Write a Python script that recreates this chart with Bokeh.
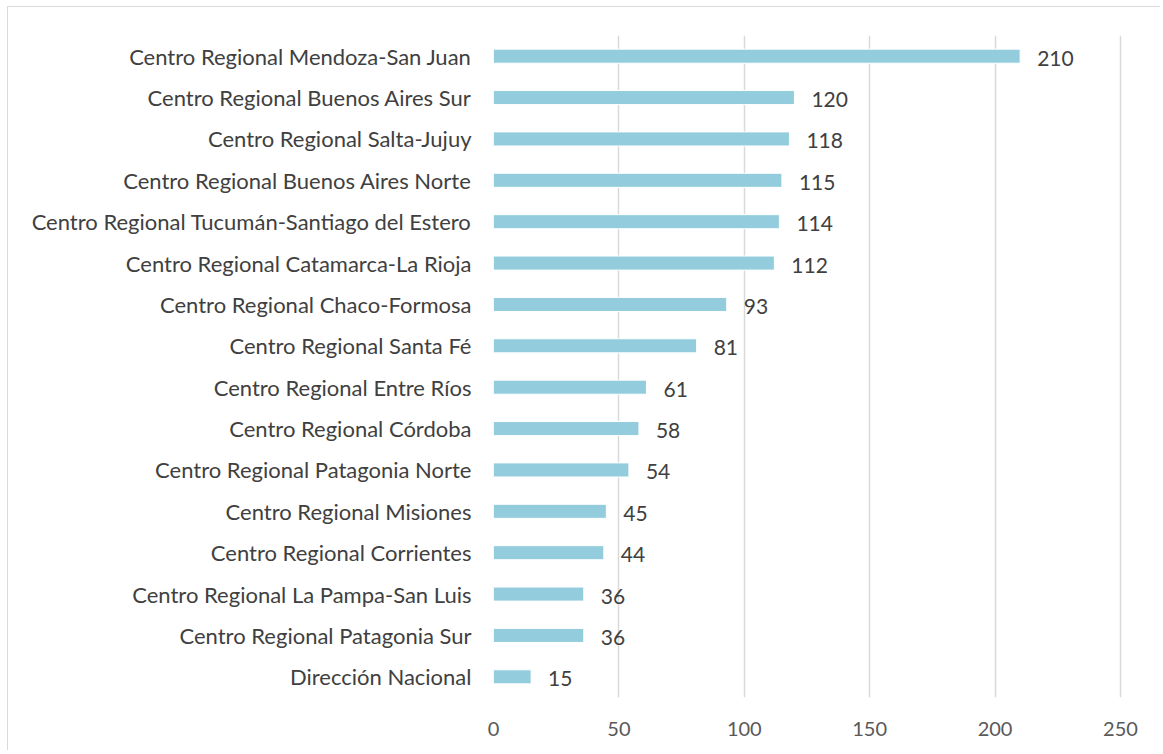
from bokeh.plotting import figure
from bokeh.models import ColumnDataSource, FactorRange, FixedTicker, LabelSet
from bokeh.core.properties import value
from bokeh.embed import file_html
from bokeh.resources import INLINE

categories = [
    "Centro Regional Mendoza-San Juan",
    "Centro Regional Buenos Aires Sur",
    "Centro Regional Salta-Jujuy",
    "Centro Regional Buenos Aires Norte",
    "Centro Regional Tucumán-Santiago del Estero",
    "Centro Regional Catamarca-La Rioja",
    "Centro Regional Chaco-Formosa",
    "Centro Regional Santa Fé",
    "Centro Regional Entre Ríos",
    "Centro Regional Córdoba",
    "Centro Regional Patagonia Norte",
    "Centro Regional Misiones",
    "Centro Regional Corrientes",
    "Centro Regional La Pampa-San Luis",
    "Centro Regional Patagonia Sur",
    "Dirección Nacional",
]
values = [210, 120, 118, 115, 114, 112, 93, 81, 61, 58, 54, 45, 44, 36, 36, 15]
x_ticks = [0, 50, 100, 150, 200, 250]

FONT = "Lato"

src = ColumnDataSource(dict(cat=categories, val=values, lbl=[str(v) for v in values]))

p = figure(
    width=1160, height=750,
    y_range=FactorRange(factors=list(reversed(categories))),
    x_range=(0, 258),
    output_backend="svg", toolbar_location=None,
    min_border_left=493, min_border_top=35, min_border_right=20, min_border_bottom=53,
    frame_width=647, frame_height=662,
)
p.border_fill_color = None
p.background_fill_color = "white"
p.styles = {
    "background": "linear-gradient(#d9d9d9,#d9d9d9) 7px 6px / 1px 100% no-repeat, "
                  "linear-gradient(#d9d9d9,#d9d9d9) 7px 6px / 100% 1px no-repeat, white",
}
p.outline_line_color = None

p.hbar(y="cat", right="val", left=0, height=0.34, source=src,
       fill_color="#93CDDD", line_color="white", line_width=1)

labels = LabelSet(x="val", y="cat", text="lbl", source=src, x_offset=17, y_offset=-2,
                  text_baseline="middle", text_align="left",
                  text_font=value(FONT), text_font_size=value("21px"), text_color=value("#404040"))
p.add_layout(labels)

p.xaxis.ticker = FixedTicker(ticks=x_ticks)
p.xaxis.axis_line_color = None
p.xaxis.major_tick_line_color = None
p.xaxis.minor_tick_line_color = None
p.xaxis.major_label_text_font = FONT
p.xaxis.major_label_text_font_size = "20px"
p.xaxis.major_label_text_color = "#595959"
p.xaxis.major_label_standoff = 18

p.yaxis.axis_line_color = None
p.yaxis.major_tick_line_color = None
p.yaxis.minor_tick_line_color = None
p.yaxis.major_label_text_font = FONT
p.yaxis.major_label_text_font_size = "22px"
p.yaxis.major_label_text_color = "#404040"
p.yaxis.major_label_standoff = 16

p.xgrid.grid_line_color = "#D9D9D9"
p.xgrid.grid_line_width = 1.5
p.ygrid.grid_line_color = None

open("out.html", "w").write(file_html(p, INLINE))
